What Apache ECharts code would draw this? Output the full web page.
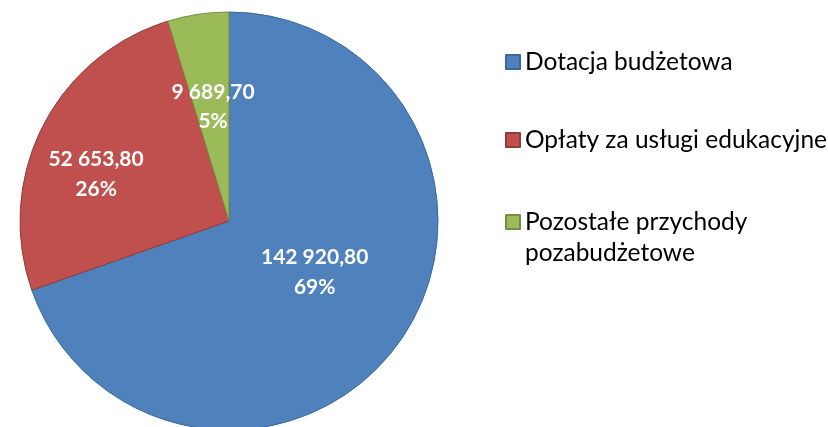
<!DOCTYPE html>
<html>
<head>
<meta charset="utf-8">
<script src="https://cdn.jsdelivr.net/npm/echarts@6/dist/echarts.min.js"></script>
<style>
  html, body { margin: 0; padding: 0; background: #fff; }
  #chart { width: 828px; height: 427px; }
</style>
</head>
<body>
<div id="chart"></div>
<script>
// Struktura przychodów (tys. zł)
const categories = ['Dotacja budżetowa', 'Opłaty za usługi edukacyjne', 'Pozostałe przychody pozabudżetowe'];
const values = [142920.80, 52653.80, 9689.70];
const fills = ['#4F81BD', '#C0504D', '#9BBB59'];
const borders = ['#3A679C', '#923B39', '#758E43'];

const FONT = 'Lato';

function fmtNumber(v) {
  const parts = v.toFixed(2).split('.');
  const intPart = parts[0].replace(/\B(?=(\d{3})+(?!\d))/g, ' ');
  return intPart + ',' + parts[1];
}

// label nudges so each label sits where it reads best inside its slice
const labelOffsets = [[-2, -11], [-37, 2], [0, -8]];

const chart = echarts.init(document.getElementById('chart'), null, { renderer: 'canvas' });

const legendText = {
  fontFamily: FONT,
  fontSize: 24.5,
  color: '#000',
  lineHeight: 31
};

function legendAt(idx, top) {
  return {
    data: [categories[idx]],
    orient: 'vertical',
    left: 505,
    top: top,
    padding: 0,
    itemWidth: 14,
    itemHeight: 14,
    itemGap: 0,
    icon: 'rect',
    selectedMode: false,
    textStyle: legendText,
    formatter: function (name) {
      // the long name wraps, keeping its first line level with the marker
      return name === categories[2] ? '\nPozostałe przychody\npozabudżetowe' : name;
    }
  };
}

chart.setOption({
  animation: false,
  legend: [
    legendAt(0, 62 - 15.5),
    legendAt(1, 140 - 15.5),
    legendAt(2, 222 - 46.5)
  ],
  series: [{
    type: 'pie',
    center: [229, 221],
    radius: 209,
    startAngle: 90,
    clockwise: true,
    percentPrecision: 0,
    label: {
      show: true,
      position: 'inside',
      color: '#fff',
      fontFamily: FONT,
      fontWeight: 'bold',
      fontSize: 21,
      lineHeight: 29.5,
      align: 'center',
      formatter: function (p) {
        return fmtNumber(p.value) + '\n' + p.percent + '%';
      }
    },
    labelLine: { show: false },
    emphasis: { disabled: true },
    data: categories.map(function (name, i) {
      return {
        name: name,
        value: values[i],
        itemStyle: { color: fills[i], borderColor: borders[i], borderWidth: 1 },
        label: { offset: labelOffsets[i] }
      };
    })
  }]
});
</script>
</body>
</html>
